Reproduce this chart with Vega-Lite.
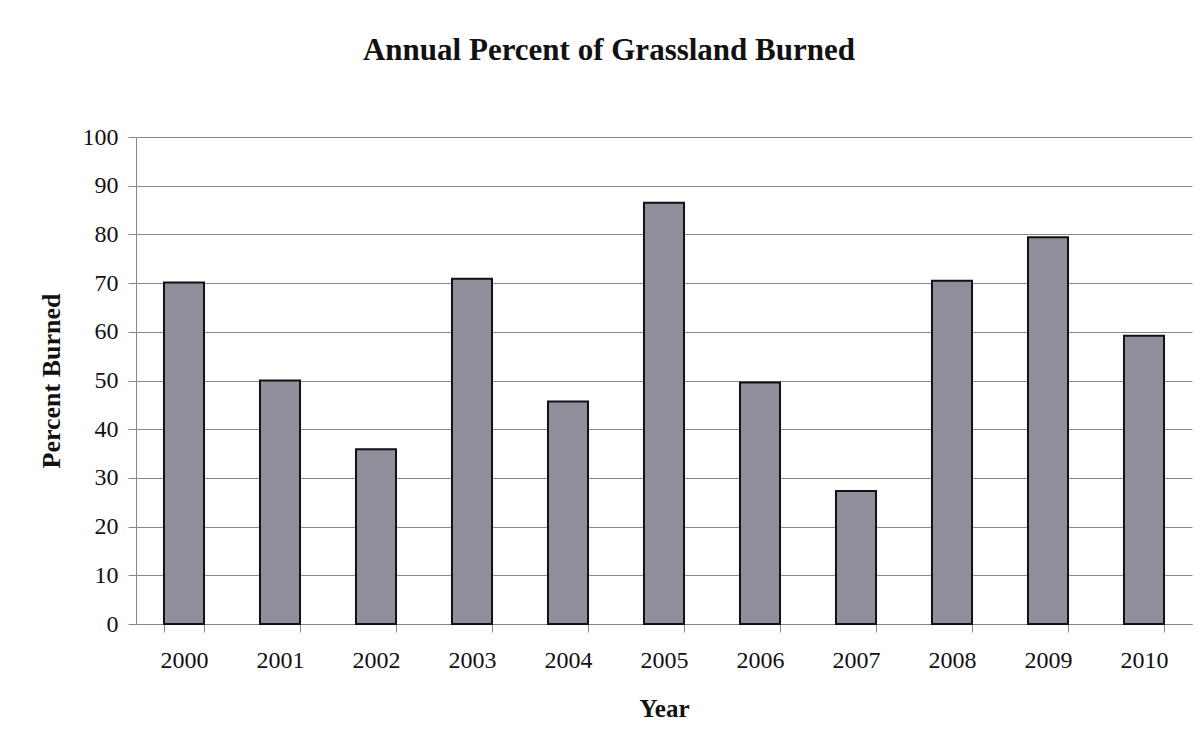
{
  "$schema": "https://vega.github.io/schema/vega-lite/v6.json",
  "width": 1056,
  "height": 487,
  "autosize": {"type": "none"},
  "padding": {"left": 136, "top": 137, "right": 10, "bottom": 127},
  "background": "white",
  "title": {
    "text": "Annual Percent of Grassland Burned",
    "font": "Liberation Serif",
    "fontSize": 31,
    "fontWeight": "bold",
    "color": "#111111",
    "anchor": "middle",
    "dx": -55,
    "offset": 58
  },
  "data": {
    "values": [
      {"Year": "2000", "Percent": 70.1},
      {"Year": "2001", "Percent": 50.0},
      {"Year": "2002", "Percent": 35.9},
      {"Year": "2003", "Percent": 70.9},
      {"Year": "2004", "Percent": 45.7},
      {"Year": "2005", "Percent": 86.5},
      {"Year": "2006", "Percent": 49.6},
      {"Year": "2007", "Percent": 27.3},
      {"Year": "2008", "Percent": 70.5},
      {"Year": "2009", "Percent": 79.4},
      {"Year": "2010", "Percent": 59.2}
    ]
  },
  "mark": {"type": "bar", "fill": "#8e8f9a", "stroke": "#111111", "strokeWidth": 2},
  "encoding": {
    "x": {
      "field": "Year",
      "type": "nominal",
      "scale": {"paddingInner": 0.583, "paddingOuter": 0.2915},
      "axis": {
        "title": "Year",
        "labelAngle": 0,
        "tickBand": "extent",
        "grid": false,
        "domainColor": "#888888",
        "tickColor": "#888888",
        "tickSize": 8,
        "labelFont": "Liberation Serif",
        "labelFontSize": 24,
        "labelColor": "#111111",
        "labelPadding": 16,
        "titleFont": "Liberation Serif",
        "titleFontSize": 25,
        "titleFontWeight": "bold",
        "titleColor": "#111111",
        "titlePadding": 24
      }
    },
    "y": {
      "field": "Percent",
      "type": "quantitative",
      "scale": {"domain": [0, 100], "nice": false},
      "axis": {
        "title": "Percent Burned",
        "values": [0, 10, 20, 30, 40, 50, 60, 70, 80, 90, 100],
        "grid": true,
        "gridColor": "#8a8a8a",
        "gridOpacity": 1,
        "domainColor": "#888888",
        "tickColor": "#888888",
        "tickSize": 8,
        "labelFont": "Liberation Serif",
        "labelFontSize": 24,
        "labelColor": "#111111",
        "labelPadding": 10,
        "titleFont": "Liberation Serif",
        "titleFontSize": 26,
        "titleFontWeight": "bold",
        "titleColor": "#111111",
        "titlePadding": 18
      }
    }
  },
  "config": {"view": {"stroke": null}}
}
